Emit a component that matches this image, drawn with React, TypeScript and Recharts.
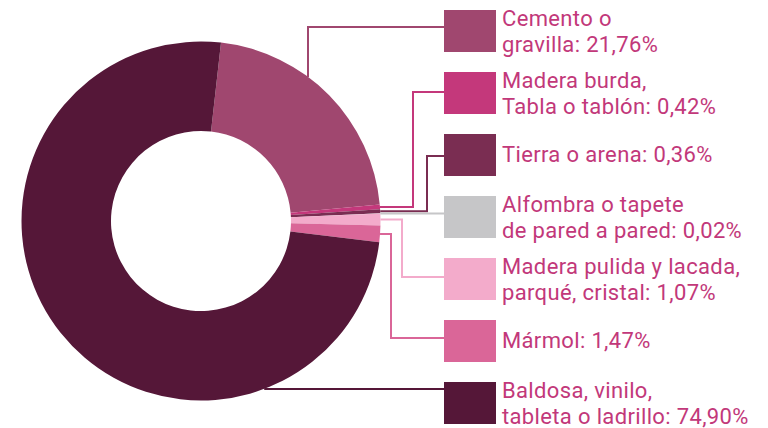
import { PieChart, Pie, Cell } from "recharts";

const categories = [
  ["Cemento o", "gravilla: 21,76%"],
  ["Madera burda,", "Tabla o tablón: 0,42%"],
  ["Tierra o arena: 0,36%"],
  ["Alfombra o tapete", "de pared a pared: 0,02%"],
  ["Madera pulida y lacada,", "parqué, cristal: 1,07%"],
  ["Mármol: 1,47%"],
  ["Baldosa, vinilo,", "tableta o ladrillo: 74,90%"],
];
const shares = [21.76, 0.42, 0.36, 0.02, 1.07, 1.47, 74.9];
const COLORS = ["#A0476F", "#C4387B", "#7A2D52", "#C6C6C8", "#F3ABCB", "#DA6698", "#551738"];
const TEXT_COLOR = "#C2387A";

// leader shapes: "up" = vertical at x from circle, "elbow" = horizontal to x then vertical to y,
// "flat" = straight across, "across" = horizontal at y from the circle
const LEADERS: { kind: string; x?: number; y?: number }[] = [
  { kind: "up", x: 308, y: 27 },
  { kind: "elbow", x: 413, y: 92 },
  { kind: "elbow", x: 427, y: 156 },
  { kind: "flat" },
  { kind: "elbow", x: 402, y: 277 },
  { kind: "elbow", x: 391, y: 338 },
  { kind: "across", y: 389 },
];

const data = categories.map((lines, i) => ({ name: lines.join(" "), value: shares[i] }));

const SQ_X = 444;
const SQ_W = 52;
const SQ_H = 42;
const RAD = Math.PI / 180;

function renderLabel(props: any) {
  const { cx, cy, midAngle, outerRadius, index } = props;
  const top = 10 + index * 62;
  const lead = LEADERS[index];
  const R = outerRadius;
  let d = "";
  if (lead.kind === "up") {
    const x = lead.x!;
    const y0 = cy - Math.sqrt(R * R - (x - cx) * (x - cx));
    d = `M${x},${y0} V${lead.y} H${SQ_X}`;
  } else if (lead.kind === "across") {
    const y = lead.y!;
    const x0 = cx + Math.sqrt(R * R - (y - cy) * (y - cy));
    d = `M${x0},${y} H${SQ_X}`;
  } else {
    const px = cx + R * Math.cos(-midAngle * RAD);
    const py = cy + R * Math.sin(-midAngle * RAD);
    d = lead.kind === "flat" ? `M${px},${py} H${SQ_X}` : `M${px},${py} H${lead.x} V${lead.y} H${SQ_X}`;
  }
  const lines = categories[index];
  const mid = top + SQ_H / 2;
  const baseline = lines.length === 1 ? mid + 7 : top + 16;
  return (
    <g key={`lbl-${index}`}>
      <path d={d} fill="none" stroke={COLORS[index]} strokeWidth={2} />
      <rect x={SQ_X} y={top} width={SQ_W} height={SQ_H} fill={COLORS[index]} />
      <text
        x={502}
        y={baseline}
        fill={TEXT_COLOR}
        fontSize={22}
        letterSpacing={0.35}
        fontFamily="Roboto, sans-serif"
      >
        {lines.map((t, j) => (
          <tspan key={j} x={502} dy={j === 0 ? 0 : 26}>
            {t}
          </tspan>
        ))}
      </text>
    </g>
  );
}

export default function App() {
  return (
    <div style={{ width: 768, height: 428 }}>
      <style>{"body{margin:0;background:#fff}"}</style>
      <PieChart width={768} height={428} margin={{ top: 0, right: 0, bottom: 0, left: 0 }}>
        <Pie
          data={data}
          dataKey="value"
          cx={201}
          cy={221}
          innerRadius={90}
          outerRadius={179.5}
          startAngle={83.6}
          endAngle={-276.4}
          stroke="none"
          label={renderLabel}
          labelLine={false}
          isAnimationActive={false}
        >
          {data.map((_, i) => (
            <Cell key={i} fill={COLORS[i]} />
          ))}
        </Pie>
      </PieChart>
    </div>
  );
}
